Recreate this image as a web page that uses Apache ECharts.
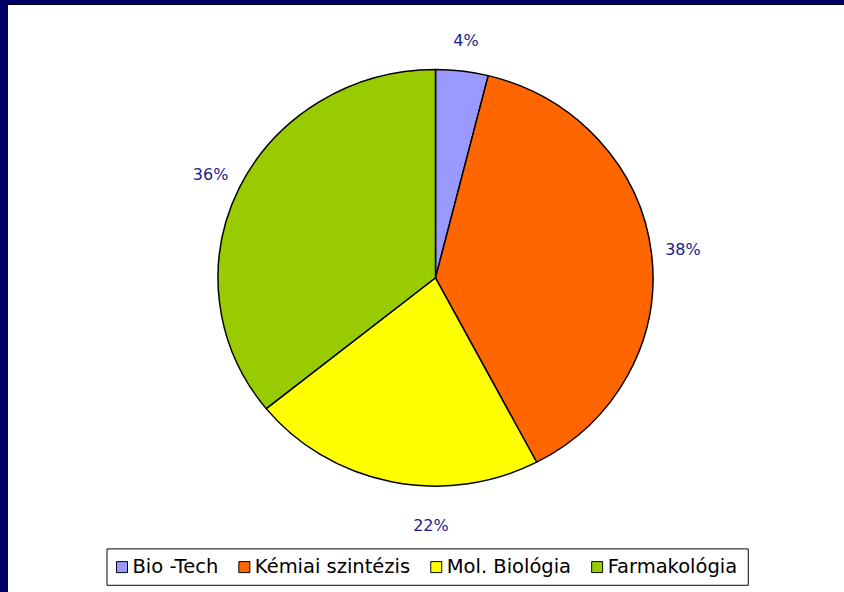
<!DOCTYPE html>
<html><head><meta charset="utf-8">
<script src="https://cdn.jsdelivr.net/npm/echarts@6/dist/echarts.min.js"></script>
<style>
html,body{margin:0;padding:0;background:#fff}
#wrap{position:relative;width:844px;height:592px;overflow:hidden;background:#fff}
#c{position:absolute;left:0;top:0;width:844px;height:618px;transform:scaleY(0.95793);transform-origin:0 0}
.b{position:absolute}
</style>
</head><body><div id="wrap"><div id="c"></div>
<div class="b" style="left:0;top:0;width:844px;height:5px;background:#000"></div>
<div class="b" style="left:0;top:0;width:8px;height:592px;background:#000"></div>
<div class="b" style="left:0;top:0;width:844px;height:4px;background:#000066"></div>
<div class="b" style="left:0;top:0;width:7px;height:592px;background:#000066"></div>
</div>
<script>
const categories = ['Bio -Tech', 'Kémiai szintézis', 'Mol. Biológia', 'Farmakológia'];
const values = [3.9, 38.4, 21.9, 35.8];
const colors = ['#9999FF', '#FF6600', '#FFFF00', '#99CC00'];

const chart = echarts.init(document.getElementById('c'), null, { renderer: 'svg' });
const sliceData = categories.map((n, i) => ({ name: n, value: values[i], itemStyle: { color: colors[i] } }));
const labelData = categories.map((n, i) => ({ name: n, value: values[i] }));
labelData[2].label = { offset: [46, 15] };

const center = [435.5, 290];
chart.setOption({
  backgroundColor: 'transparent',
  animation: false,
  legend: {
    data: categories,
    left: 107,
    top: 573,
    orient: 'horizontal',
    icon: 'rect',
    itemWidth: 11,
    itemHeight: 11.5,
    itemGap: 20,
    padding: [9, 11, 9, 9],
    borderColor: '#000',
    borderWidth: 1,
    borderRadius: 0,
    itemStyle: { borderColor: '#000', borderWidth: 1 },
    textStyle: { fontFamily: 'DejaVu Sans, sans-serif', fontSize: 19.5, color: '#000', padding: [0, 0, 0, 0] }
  },
  series: [
    {
      type: 'pie',
      center: center,
      radius: 217.5,
      startAngle: 90,
      clockwise: true,
      data: sliceData,
      label: { show: false },
      labelLine: { show: false },
      itemStyle: { borderColor: '#000', borderWidth: 1.5 },
      silent: true
    },
    {
      type: 'pie',
      center: center,
      radius: [217.5, 275],
      startAngle: 90,
      clockwise: true,
      data: labelData,
      legendHoverLink: false,
      itemStyle: { color: 'rgba(0,0,0,0)', borderWidth: 0 },
      label: {
        show: true,
        position: 'inside',
        formatter: p => Math.round(p.percent) + '%',
        color: '#1a1a8c',
        fontSize: 16,
        fontFamily: 'DejaVu Sans, sans-serif'
      },
      labelLine: { show: false },
      silent: true
    }
  ]
});
</script></body></html>
